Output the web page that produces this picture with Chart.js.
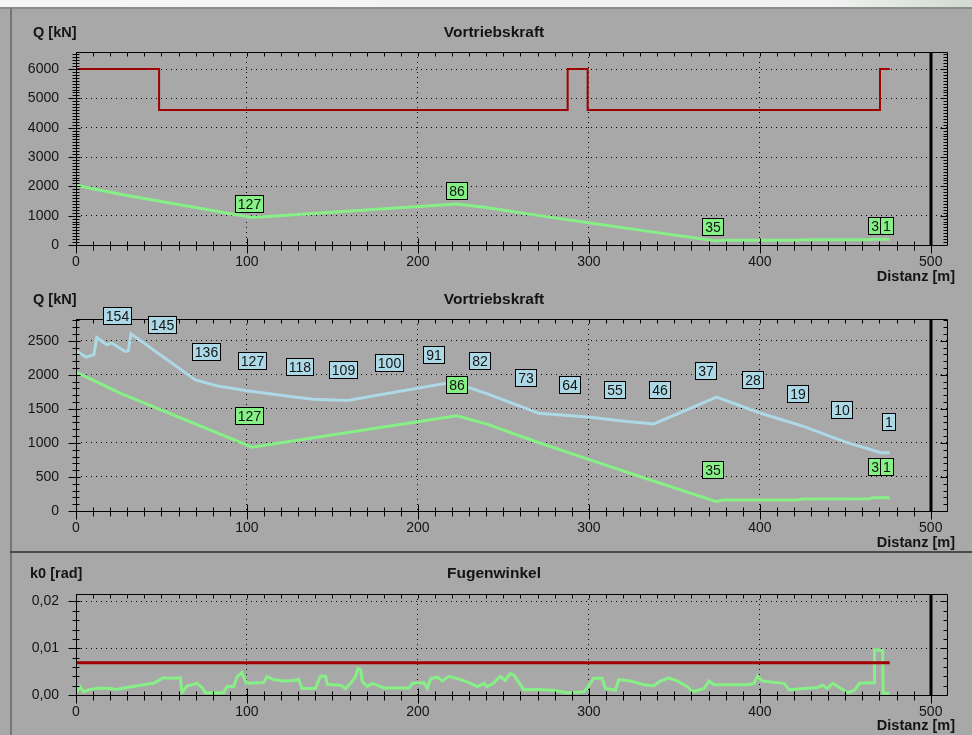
<!DOCTYPE html>
<html lang="de">
<head>
<meta charset="utf-8">
<title>Vortriebskraft / Fugenwinkel</title>
<script src="https://cdn.jsdelivr.net/npm/chart.js@4.4.1/dist/chart.umd.js"></script>
<style>
  html, body { margin: 0; padding: 0; }
  body { width: 972px; height: 735px; background: #a8a8a8; position: relative; overflow: hidden; }
  .streifen { position: absolute; left: 0; top: 0; width: 972px; height: 7px;
    background: linear-gradient(to right, #f6f6f6 0%, #f2f2f2 85%, #cfdccf 100%); }
  .rand-oben { position: absolute; left: 0; top: 7px; width: 972px; height: 2px; background: #8c8c8c; }
  .rand-links { position: absolute; left: 10px; top: 8px; width: 2px; height: 727px; background: #767676; }
  .trenner { position: absolute; left: 10px; top: 551px; width: 962px; height: 2px; background: #4a4a4a; }
  canvas { position: absolute; left: 0; }
</style>
</head>
<body>
<div class="streifen"></div>
<div class="rand-oben"></div>
<div class="rand-links"></div>
<div class="trenner"></div>
<canvas id="kraft1" width="972" height="290" style="top:0"></canvas>
<canvas id="kraft2" width="972" height="272" style="top:280px"></canvas>
<canvas id="fuge" width="972" height="183" style="top:552px"></canvas>

<script>
// Distanz [m] / Wert
const maxKraft = [[0, 6000], [48.6, 6000], [48.6, 4600], [287.6, 4600], [287.6, 6000], [299.3, 6000],
  [299.3, 4600], [470.3, 4600], [470.3, 6000], [476, 6000]];

const kraftGruen = [[0, 2040], [25.8, 1730], [103, 937], [222.7, 1397], [240, 1280], [270, 1010],
  [300.7, 750], [336, 456], [374.7, 137], [378, 160], [422, 162], [425, 176], [464, 180], [466, 196], [476, 196]];

const kraftBlau = [[0, 2353], [5.9, 2260], [10.5, 2294], [12.1, 2549], [18, 2441], [20.9, 2466],
  [28.7, 2343], [30.6, 2353], [32.2, 2603], [69.8, 1926], [82.5, 1838], [100, 1765], [125.4, 1681],
  [139, 1642], [158.7, 1622], [199.7, 1804], [217, 1878], [222, 1880], [240.3, 1725], [270.6, 1436],
  [300.7, 1377], [322.4, 1313], [338, 1279], [374.7, 1672], [400.5, 1436], [426, 1240], [449.4, 1019],
  [470.9, 857], [476, 857]];

const grenzWinkel = [[0, 0.0069], [476, 0.0069]];

const fugenWinkel = [[0, 0.0004], [2.3, 0.0018], [4.3, 0.0007], [8.2, 0.0012], [14, 0.0015], [20, 0.0014],
  [23.8, 0.0012], [29.7, 0.0016], [37.5, 0.0021], [45.3, 0.0025], [51.2, 0.0037], [55, 0.0036],
  [61, 0.0037], [62, 0.0005], [64.9, 0.0019], [70.7, 0.0025], [73.7, 0.0016], [75.6, 0.0005],
  [86.3, 0.0005], [88.3, 0.0018], [92.2, 0.0018], [94.2, 0.0039], [97.1, 0.0048], [99.6, 0.0025],
  [102, 0.0025], [109.8, 0.0027], [111.7, 0.0039], [115.6, 0.0033], [121.5, 0.0030], [127.3, 0.0031],
  [130.3, 0.0033], [132.2, 0.0014], [140, 0.0014], [143, 0.0040], [146, 0.0040], [147, 0.0023],
  [154.8, 0.0021], [157.7, 0.0014], [160.6, 0.0025], [163.5, 0.0039], [164.9, 0.0057], [166.5, 0.0054],
  [167.5, 0.0029], [170.4, 0.0018], [173.3, 0.0025], [178.2, 0.0018], [180.1, 0.0015], [194.8, 0.0015],
  [196.7, 0.0025], [203.5, 0.0026], [205.5, 0.0014], [207.5, 0.0035], [211.4, 0.0038], [214.3, 0.0030],
  [218.2, 0.0040], [223.1, 0.0035], [229, 0.0028], [234.8, 0.0018], [238.7, 0.0025], [240.3, 0.0018],
  [244.2, 0.0025], [248.1, 0.0040], [251, 0.0031], [254, 0.0046], [256, 0.0043], [260.8, 0.0018],
  [261.8, 0.0011], [269.6, 0.0012], [279.4, 0.0010], [287.2, 0.0005], [297, 0.0007], [298.9, 0.0014],
  [302.8, 0.0036], [307.7, 0.0036], [309.7, 0.0014], [315.5, 0.0010], [317.5, 0.0033], [324.3, 0.0030],
  [332.2, 0.0022], [338, 0.0020], [341.9, 0.0030], [346.8, 0.0036], [351.7, 0.0030], [357.6, 0.0018],
  [360.5, 0.0007], [367.4, 0.0014], [370.3, 0.0030], [373.2, 0.0022], [392.7, 0.0022], [396.6, 0.0025],
  [398.6, 0.0040], [401.5, 0.0030], [408.4, 0.0027], [414.2, 0.0025], [417.2, 0.0011], [426, 0.0014],
  [433.8, 0.0016], [436.7, 0.0021], [439.6, 0.0014], [442.6, 0.0025], [447.5, 0.0014], [451.4, 0.0005],
  [455.3, 0.0010], [458.3, 0.0025], [465.1, 0.0026], [466.9, 0.0026], [467.1, 0.0096], [469, 0.0097],
  [470.5, 0.0095], [471.8, 0.0095], [472.2, 0.0004], [475.7, 0.0004]];

// Achsbeschriftungen
const distanzTicks = [0, 100, 200, 300, 400, 500];
const kraftTicksOben = [0, 1000, 2000, 3000, 4000, 5000, 6000];
const kraftTicksUnten = [0, 500, 1000, 1500, 2000, 2500];
const winkelTicks = [0, 0.01, 0.02];

// Rohrnummern an den Kurven
const ringBlau = [154, 145, 136, 127, 118, 109, 100, 91, 82, 73, 64, 55, 46, 37, 28, 19, 10, 1];
const ringBlauPos = [24.0, 50.4, 76.4, 103.1, 131.1, 156.5, 183.1, 209.2, 236.2, 263.3, 289.1, 315.5,
  341.9, 368.3, 395.8, 422.3, 448.1, 475.3];
const ringGruen = [127, 86, 35, 31, 1];
const ringGruenPos = [101.6, 222.6, 372.8, 470, 474.5];
const ringAbstand = 450; // kN über der Kurve

const ROT = "#a00000";
const GRUEN = "#86f086";
const BLAU = "#add8e6";
const TEXT = "#141414";
const TICKFONT = { family: "'Liberation Sans', Arial, sans-serif", size: 14 };

const punkte = (arr) => arr.map(([x, y]) => ({ x, y }));
const alsTicks = (werte) => (s) => { s.ticks = werte.map((value) => ({ value })); };

function wertBei(arr, xv) {
  for (let i = 0; i < arr.length - 1; i++) {
    const [x0, y0] = arr[i];
    const [x1, y1] = arr[i + 1];
    if (xv >= x0 && xv <= x1) {
      return x1 === x0 ? y1 : y0 + ((xv - x0) / (x1 - x0)) * (y1 - y0);
    }
  }
  return arr[arr.length - 1][1];
}

const rahmenPlugin = {
  id: "rahmen",
  afterDatasetsDraw(chart, args, o) {
    const { ctx, chartArea: a, scales } = chart;
    const x = scales.x, y = scales.y;
    const r = (v) => Math.round(v) + 0.5;
    const line = (x1, y1, x2, y2) => {
      ctx.beginPath();
      ctx.moveTo(x1, y1);
      ctx.lineTo(x2, y2);
      ctx.stroke();
    };
    ctx.save();
    ctx.strokeStyle = "#000";
    ctx.lineWidth = 1;

    // Rahmen
    const L = r(a.left), R = r(a.right), T = r(a.top), B = r(a.bottom);
    line(L, T, R, T);
    line(R, T, R, B);
    line(L, B, R, B);
    line(L, T, L, B);

    // x-Striche
    for (let v = 0; v <= x.max + 1e-9; v += 10) {
      const p = r(x.getPixelForValue(v));
      const major = v % 100 === 0;
      line(p, B - (major ? 7 : 4), p, B + (major ? 8 : 5));
      line(p, T, p, T + 4);
    }
    // y-Striche
    const n = Math.round(y.max / o.yMinor);
    for (let i = 0; i <= n; i++) {
      const v = i * o.yMinor;
      if (v > y.max + 1e-12) break;
      const p = r(y.getPixelForValue(v));
      const major = Math.abs(v / o.yMajor - Math.round(v / o.yMajor)) < 1e-6;
      line(L - (major ? 8 : 4), p, L + (major ? 4 : 3), p);
      line(R - (major ? 7 : 4), p, R, p);
    }

    // Ende der Strecke
    ctx.lineWidth = 3;
    const e = Math.round(x.getPixelForValue(500));
    line(e, a.top, e, a.bottom);
    ctx.restore();

    // Rohrnummern
    ctx.save();
    ctx.font = "14px 'Liberation Sans', Arial, sans-serif";
    ctx.textAlign = "center";
    ctx.textBaseline = "middle";
    (o.ringe || []).forEach((g) => {
      g.namen.forEach((name, i) => {
        const xv = g.pos[i];
        const px = x.getPixelForValue(xv);
        const py = y.getPixelForValue(wertBei(g.daten, xv) + ringAbstand);
        const txt = String(name);
        const w = Math.round(ctx.measureText(txt).width) + 6;
        const h = 18;
        const bx = Math.round(px - w / 2), by = Math.round(py - h / 2);
        ctx.fillStyle = g.farbe;
        ctx.fillRect(bx, by, w, h);
        ctx.strokeStyle = "#000";
        ctx.lineWidth = 1;
        ctx.strokeRect(bx + 0.5, by + 0.5, w - 1, h - 1);
        ctx.fillStyle = TEXT;
        ctx.fillText(txt, bx + w / 2, by + h / 2 + 1);
      });
    });
    ctx.restore();

    // Beschriftungen
    ctx.save();
    ctx.fillStyle = TEXT;
    ctx.textBaseline = "alphabetic";
    ctx.font = "bold 15.5px 'Liberation Sans', Arial, sans-serif";
    ctx.textAlign = "center";
    ctx.fillText(o.titel, 494, o.titelY);
    ctx.font = "bold 14.5px 'Liberation Sans', Arial, sans-serif";
    ctx.textAlign = "left";
    ctx.fillText(o.einheit, o.einheitX, o.titelY);
    ctx.textAlign = "right";
    ctx.fillText("Distanz [m]", 955, o.distanzY);
    ctx.restore();
  },
};

function diagramm(id, cfg) {
  return new Chart(document.getElementById(id), {
    type: "line",
    data: { datasets: cfg.datasets },
    options: {
      responsive: false,
      animation: false,
      devicePixelRatio: 1,
      layout: { padding: { left: 0, right: 25, top: cfg.oben, bottom: cfg.unten } },
      elements: { point: { radius: 0 }, line: { tension: 0 } },
      plugins: {
        legend: { display: false },
        tooltip: { enabled: false },
        rahmen: cfg.rahmen,
      },
      scales: {
        x: {
          type: "linear",
          min: 0,
          max: 509.5,
          afterBuildTicks: alsTicks(distanzTicks),
          afterFit: (s) => { s.height = 30; },
          ticks: {
            padding: 9,
            maxRotation: 0,
            autoSkip: false,
            color: TEXT,
            font: TICKFONT,
            callback: (v) => String(v),
          },
          grid: { color: "#000", lineWidth: 1, drawTicks: false },
          border: { display: false, dash: [1, 4] },
        },
        y: {
          type: "linear",
          min: 0,
          max: cfg.yMax,
          afterBuildTicks: alsTicks(cfg.yTicks),
          afterFit: (s) => { s.width = 76; },
          ticks: {
            padding: 17,
            autoSkip: false,
            color: TEXT,
            font: TICKFONT,
            callback: cfg.format,
          },
          grid: { color: "#000", lineWidth: 1, drawTicks: false },
          border: { display: false, dash: [1, 4] },
        },
      },
    },
    plugins: [rahmenPlugin],
  });
}

const linie = (daten, farbe, breite) => ({
  data: punkte(daten),
  borderColor: farbe,
  borderWidth: breite,
  fill: false,
});

diagramm("kraft1", {
  oben: 52,
  unten: 15,
  yMax: 6580,
  yTicks: kraftTicksOben,
  format: (v) => String(v),
  datasets: [linie(maxKraft, ROT, 2), linie(kraftGruen, GRUEN, 3)],
  rahmen: {
    yMinor: 100, yMajor: 1000,
    titel: "Vortriebskraft", einheit: "Q [kN]", einheitX: 33, titelY: 37, distanzY: 281,
    ringe: [{ daten: kraftGruen, namen: ringGruen, pos: ringGruenPos, farbe: GRUEN }],
  },
});

diagramm("kraft2", {
  oben: 39,
  unten: 11,
  yMax: 2820,
  yTicks: kraftTicksUnten,
  format: (v) => String(v),
  datasets: [linie(kraftBlau, BLAU, 3), linie(kraftGruen, GRUEN, 3)],
  rahmen: {
    yMinor: 100, yMajor: 500,
    titel: "Vortriebskraft", einheit: "Q [kN]", einheitX: 33, titelY: 24, distanzY: 267,
    ringe: [
      { daten: kraftBlau, namen: ringBlau, pos: ringBlauPos, farbe: BLAU },
      { daten: kraftGruen, namen: ringGruen, pos: ringGruenPos, farbe: GRUEN },
    ],
  },
});

diagramm("fuge", {
  oben: 42,
  unten: 10,
  yMax: 0.0216,
  yTicks: winkelTicks,
  format: (v) => v.toFixed(2).replace(".", ","),
  datasets: [linie(grenzWinkel, ROT, 3), linie(fugenWinkel, GRUEN, 3)],
  rahmen: {
    yMinor: 0.002, yMajor: 0.01,
    titel: "Fugenwinkel", einheit: "k0 [rad]", einheitX: 30, titelY: 26, distanzY: 178,
    ringe: [],
  },
});
</script>
</body>
</html>
